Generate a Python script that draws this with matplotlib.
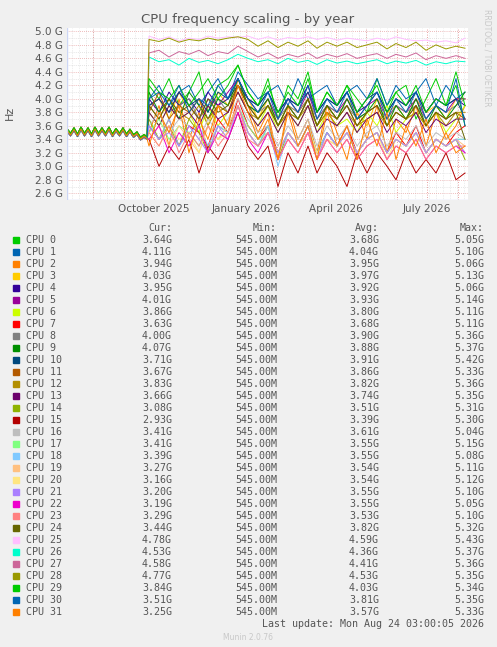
import matplotlib
matplotlib.use("Agg")
import matplotlib.pyplot as plt
import numpy as np

colors = ["#00CC00","#0066B3","#FF8000","#FFCC00","#330099","#990099","#CCFF00","#FF0000",
          "#808080","#008F00","#00487D","#B35A00","#B38F00","#6B006B","#8FB300","#B30000",
          "#BEBEBE","#80FF80","#80C9FF","#FFC080","#FFE680","#AA80FF","#EE00CC","#FF8080",
          "#666600","#FFBFFF","#00FFCC","#CC6699","#999900","#00CC00","#0066B3","#FF8000"]
names = ["CPU %d" % i for i in range(32)]
cur = ["3.64G","4.11G","3.94G","4.03G","3.95G","4.01G","3.86G","3.63G","4.00G","4.07G","3.71G",
       "3.67G","3.83G","3.66G","3.08G","2.93G","3.41G","3.41G","3.39G","3.27G","3.16G","3.20G",
       "3.19G","3.29G","3.44G","4.78G","4.53G","4.58G","4.77G","3.84G","3.51G","3.25G"]
mins = ["545.00M"] * 32
avg = ["3.68G","4.04G","3.95G","3.97G","3.92G","3.93G","3.80G","3.68G","3.90G","3.88G","3.91G",
       "3.86G","3.82G","3.74G","3.51G","3.39G","3.61G","3.55G","3.55G","3.54G","3.54G","3.55G",
       "3.55G","3.53G","3.82G","4.59G","4.36G","4.41G","4.53G","4.03G","3.81G","3.57G"]
maxs = ["5.05G","5.10G","5.06G","5.13G","5.06G","5.14G","5.11G","5.11G","5.36G","5.37G","5.42G",
        "5.33G","5.36G","5.35G","5.31G","5.30G","5.04G","5.15G","5.08G","5.11G","5.12G","5.10G",
        "5.05G","5.10G","5.32G","5.43G","5.37G","5.36G","5.35G","5.34G","5.35G","5.33G"]

# shared early segment (days since 2025-07-06), all cores nearly identical
pre_days = [0,3.5,7,10.5,14,17.5,21,24.5,28,31.5,35,38.5,42,45.5,49,52.5,56,59.5,63,66.5,70,73.5,77,80]
pre_vals = [3.54,3.47,3.55,3.46,3.56,3.47,3.55,3.46,3.56,3.47,3.55,3.47,3.56,3.46,3.54,3.47,3.55,3.46,
            3.53,3.45,3.49,3.41,3.45,3.42]
post_days = [82,92,102,112,122,132,141,151,161,171,181,191,201,211,221,231,241,250,260,270,280,290,
             300,310,320,329,339,349,359,369,379,389,398]

post = {
 0: [4.2,4.0,4.3,3.9,4.1,4.4,3.8,4.2,4.3,4.5,4.1,3.9,4.3,3.7,4.2,4.0,4.4,3.8,4.1,3.9,4.2,4.0,3.8,4.3,3.9,4.1,4.2,3.7,4.0,4.3,3.9,4.2,3.6],
 1: [4.0,4.2,3.9,4.1,4.2,3.9,4.1,4.3,4.0,4.4,4.2,4.0,4.1,4.2,3.9,4.3,4.0,4.1,4.2,3.9,4.1,4.2,4.0,4.3,3.9,4.2,4.0,4.1,4.3,3.9,4.2,4.0,4.1],
 2: [3.5,3.9,3.3,4.0,3.4,3.8,3.2,3.9,3.6,4.3,3.9,3.5,3.8,3.1,3.9,3.4,3.7,3.2,3.9,3.5,3.1,3.8,3.4,3.9,3.2,3.7,3.5,3.9,3.3,3.8,3.4,3.6,3.9],
 3: [3.9,4.0,3.7,4.1,3.8,4.0,3.6,4.1,3.9,4.2,4.0,3.7,4.0,3.6,3.9,3.8,4.0,3.6,3.9,3.7,4.0,3.8,3.6,4.0,3.8,3.9,3.7,4.0,3.8,3.9,3.7,4.0,4.0],
 4: [4.0,3.8,4.1,3.9,4.0,3.8,4.1,3.9,4.0,4.2,4.0,3.9,4.1,3.8,4.0,3.9,4.2,3.8,4.0,3.9,4.1,3.8,3.9,4.1,3.8,4.0,3.9,4.1,3.8,4.0,3.9,4.0,3.9],
 5: [3.9,4.0,3.8,4.1,3.9,3.7,4.0,3.9,4.1,4.3,4.0,3.8,4.0,3.7,4.0,3.8,4.1,3.7,3.9,3.8,4.0,3.7,3.9,4.0,3.7,3.9,3.8,4.0,3.7,3.9,3.8,4.0,4.0],
 6: [3.8,3.6,3.9,3.7,3.8,3.5,3.9,3.6,3.8,4.1,3.8,3.6,3.9,3.5,3.8,3.6,3.9,3.5,3.8,3.6,3.7,3.5,3.8,3.6,3.9,3.5,3.7,3.8,3.6,3.8,3.5,3.7,3.9],
 7: [3.6,3.4,3.7,3.3,3.6,3.5,3.3,3.7,3.5,4.0,3.6,3.4,3.6,3.2,3.5,3.3,3.6,3.2,3.5,3.3,3.6,3.2,3.4,3.5,3.2,3.5,3.3,3.6,3.2,3.4,3.3,3.5,3.6],
 8: [3.9,4.0,3.8,3.9,4.0,3.7,3.9,4.0,3.8,4.2,3.9,3.8,3.9,3.7,3.9,3.8,4.0,3.7,3.9,3.8,3.9,3.7,3.8,3.9,3.7,3.9,3.8,3.9,3.7,3.9,3.8,3.9,4.0],
 9: [4.1,3.8,4.0,3.7,4.1,3.9,3.7,4.0,3.9,4.3,3.9,3.8,4.0,3.6,3.9,3.7,4.0,3.6,3.9,3.7,4.0,3.7,3.8,4.0,3.6,3.9,3.7,4.0,3.6,3.9,3.7,3.9,4.1],
10: [3.9,4.0,3.8,4.1,3.9,4.0,3.8,4.1,4.0,4.3,4.0,3.9,4.1,3.8,4.0,3.9,4.1,3.8,4.0,3.9,4.1,3.8,4.0,4.1,3.8,4.0,3.9,4.1,3.8,4.0,3.9,4.0,3.7],
11: [3.8,4.1,3.7,3.9,3.8,4.0,3.7,3.9,3.8,4.2,3.9,3.7,3.9,3.6,3.8,3.7,4.0,3.6,3.8,3.7,3.9,3.6,3.8,3.9,3.6,3.8,3.7,3.9,3.6,3.8,3.7,3.8,3.7],
12: [3.9,3.7,4.0,3.8,3.7,3.9,3.6,3.9,3.8,4.1,3.8,3.7,3.9,3.6,3.8,3.7,3.9,3.6,3.8,3.6,3.8,3.6,3.7,3.8,3.6,3.8,3.7,3.8,3.6,3.8,3.6,3.8,3.8],
13: [3.8,3.6,3.9,3.7,3.8,3.6,3.9,3.7,3.8,4.1,3.8,3.6,3.8,3.5,3.8,3.6,3.9,3.5,3.7,3.6,3.8,3.5,3.7,3.8,3.5,3.7,3.6,3.8,3.5,3.7,3.6,3.7,3.7],
14: [3.7,3.4,3.6,3.3,3.7,3.5,3.2,3.6,3.5,3.9,3.5,3.3,3.6,3.1,3.5,3.3,3.6,3.2,3.5,3.3,3.5,3.2,3.4,3.5,3.2,3.4,3.3,3.5,3.2,3.4,3.3,3.4,3.1],
15: [3.4,3.0,3.3,3.1,3.4,2.9,3.3,3.1,3.4,3.8,3.3,3.1,3.3,2.7,3.2,2.9,3.3,2.9,3.2,3.0,2.7,3.2,2.9,3.2,3.0,2.8,3.2,2.9,3.1,2.9,3.2,2.8,2.9],
16: [3.6,3.8,3.5,3.7,3.6,3.4,3.7,3.5,3.7,4.0,3.7,3.5,3.6,3.3,3.6,3.4,3.7,3.3,3.6,3.4,3.6,3.3,3.5,3.6,3.3,3.5,3.4,3.6,3.3,3.5,3.4,3.5,3.4],
17: [3.5,3.7,3.4,3.6,3.5,3.3,3.6,3.4,3.6,3.9,3.6,3.4,3.5,3.2,3.5,3.3,3.6,3.2,3.5,3.3,3.5,3.2,3.4,3.5,3.2,3.4,3.3,3.5,3.2,3.4,3.3,3.4,3.4],
18: [3.6,3.4,3.7,3.3,3.5,3.6,3.3,3.6,3.5,3.9,3.5,3.3,3.6,3.0,3.5,3.3,3.6,3.2,3.5,3.3,3.5,3.2,3.4,3.5,3.2,3.4,3.3,3.5,3.2,3.4,3.3,3.4,3.4],
19: [3.4,3.6,3.3,3.6,3.4,3.2,3.6,3.4,3.6,3.9,3.5,3.3,3.5,3.2,3.5,3.3,3.5,3.2,3.4,3.3,3.5,3.2,3.4,3.5,3.2,3.4,3.3,3.5,3.2,3.4,3.3,3.4,3.3],
20: [3.5,3.3,3.6,3.4,3.5,3.2,3.6,3.4,3.5,3.9,3.5,3.3,3.5,3.2,3.5,3.3,3.6,3.2,3.4,3.3,3.5,3.2,3.4,3.5,3.1,3.4,3.3,3.5,3.2,3.4,3.3,3.4,3.2],
21: [3.6,3.4,3.5,3.3,3.6,3.4,3.2,3.6,3.4,3.9,3.5,3.3,3.5,3.2,3.5,3.3,3.6,3.1,3.5,3.3,3.5,3.2,3.4,3.5,3.2,3.4,3.3,3.5,3.2,3.4,3.3,3.4,3.2],
22: [3.4,3.6,3.2,3.5,3.3,3.6,3.2,3.5,3.4,3.8,3.4,3.2,3.5,3.1,3.4,3.2,3.5,3.1,3.4,3.2,3.4,3.1,3.3,3.4,3.1,3.3,3.2,3.4,3.1,3.3,3.2,3.3,3.2],
23: [3.5,3.3,3.6,3.2,3.5,3.3,3.6,3.3,3.5,3.9,3.4,3.3,3.5,3.1,3.4,3.2,3.5,3.1,3.4,3.2,3.4,3.1,3.3,3.4,3.1,3.3,3.2,3.4,3.1,3.3,3.2,3.3,3.3],
24: [3.9,3.7,4.0,3.8,3.9,3.7,4.0,3.8,3.9,4.2,3.9,3.7,3.9,3.6,3.9,3.7,4.0,3.6,3.9,3.7,3.9,3.6,3.8,3.9,3.6,3.8,3.7,3.9,3.6,3.8,3.7,3.8,3.4],
25: [4.93,4.88,4.92,4.86,4.90,4.88,4.93,4.90,4.92,4.91,4.93,4.88,4.92,4.87,4.91,4.89,4.92,4.88,4.91,4.87,4.90,4.88,4.86,4.90,4.87,4.92,4.88,4.86,4.87,4.84,4.86,4.83,4.90],
26: [4.62,4.55,4.58,4.50,4.60,4.54,4.57,4.52,4.58,4.66,4.60,4.55,4.58,4.52,4.60,4.54,4.57,4.51,4.58,4.53,4.56,4.52,4.55,4.58,4.52,4.56,4.53,4.57,4.50,4.55,4.52,4.56,4.55],
27: [4.68,4.72,4.62,4.70,4.66,4.72,4.64,4.70,4.67,4.78,4.70,4.62,4.68,4.60,4.66,4.62,4.68,4.60,4.66,4.62,4.67,4.60,4.64,4.67,4.60,4.66,4.62,4.68,4.58,4.64,4.60,4.64,4.60],
28: [4.88,4.85,4.90,4.84,4.88,4.86,4.90,4.87,4.90,4.92,4.88,4.78,4.86,4.76,4.84,4.78,4.86,4.75,4.84,4.78,4.84,4.76,4.80,4.84,4.74,4.82,4.76,4.84,4.72,4.80,4.74,4.78,4.75],
29: [4.3,4.1,4.0,4.2,3.9,4.1,4.3,4.0,4.2,4.5,4.1,3.9,4.2,3.8,4.1,3.9,4.3,3.8,4.1,3.9,4.2,3.8,4.0,4.2,3.8,4.1,3.9,4.2,3.8,4.0,3.9,4.4,3.9],
30: [4.0,4.1,3.9,4.2,3.8,4.0,3.9,4.2,4.0,4.3,4.0,3.8,4.1,3.7,4.0,3.8,4.2,3.7,4.0,3.8,4.1,3.7,3.9,4.1,3.7,4.0,3.8,4.1,3.7,3.9,3.8,4.3,3.6],
31: [3.3,3.8,3.5,3.9,3.2,3.7,3.4,3.9,3.6,4.2,3.8,3.4,3.7,3.1,3.8,3.3,3.6,3.1,3.8,3.3,3.6,3.1,3.7,3.3,3.8,3.1,3.6,3.3,3.7,3.2,3.5,3.2,3.3],
}

plt.rcParams['font.family'] = ['DejaVu Sans']
fig = plt.figure(figsize=(4.97, 6.47), dpi=100, facecolor="#F0F0F0")
W, H = 497, 647
ax = fig.add_axes([67/W, 1-200/H, 401/W, 172/H], facecolor="white")

for i in range(32):
    x = pre_days + post_days
    y = [v + (i % 5 - 2) * 0.01 for v in pre_vals] + post[i]
    ax.plot(x, y, color=colors[i], lw=0.7)

ax.set_xlim(0, 401)
ax.set_ylim(2.5, 5.05)
ax.set_yticks(np.arange(2.6, 5.01, 0.2))
ax.set_yticklabels(["%.1f G" % v for v in np.arange(2.6, 5.01, 0.2)], fontsize=7.5, color="#555555")
month_days = [26, 57, 87, 118, 148, 179, 210, 238, 269, 299, 330, 360, 391]
ax.set_xticks([87, 179, 269, 360])
ax.set_xticklabels(["October 2025", "January 2026", "April 2026", "July 2026"], fontsize=7.5, color="#555555")
ax.tick_params(length=0, pad=3)
for d in month_days:
    ax.axvline(d, color="#e08080", lw=0.6, ls=(0, (1, 2)), zorder=0)
for d in range(5, 401, 7):
    ax.axvline(d, color="#cccccc", lw=0.4, ls=(0, (1, 2)), zorder=0)
for v in np.arange(2.6, 5.01, 0.1):
    ax.axhline(v, color="#e08080" if round(v*10) % 2 == 0 else "#cccccc", lw=0.5, ls=(0, (1, 2)), zorder=0)
for s in ax.spines.values():
    s.set_visible(False)
ax.axhline(2.5, color="#ccd6f5", lw=1)
ax.axvline(0, color="#ccd6f5", lw=1)

fig.text(248/W, 1-19/H, "CPU frequency scaling - by year", ha="center", va="center", fontsize=9.5, color="#555555")
fig.text(10/W, 1-113/H, "Hz", rotation=90, ha="center", va="center", fontsize=8, color="#555555")
fig.text(487/W, 1-58/H, "RRDTOOL / TOBI OETIKER", rotation=270, ha="center", va="center", fontsize=5.5, color="#c8c8c8")

mono = dict(family="DejaVu Sans Mono", fontsize=7.2, color="#555555", va="center")
y0 = 228
fig.text(172/W, 1-y0/H, "Cur:", ha="right", **mono)
fig.text(277/W, 1-y0/H, "Min:", ha="right", **mono)
fig.text(379/W, 1-y0/H, "Avg:", ha="right", **mono)
fig.text(484/W, 1-y0/H, "Max:", ha="right", **mono)
for i in range(32):
    yy = 240 + i * 12.0
    fig.patches.append(plt.Rectangle((13/W, 1-(yy+3)/H), 6/W, 6/H, transform=fig.transFigure, color=colors[i]))
    fig.text(26/W, 1-yy/H, names[i], ha="left", **mono)
    fig.text(172/W, 1-yy/H, cur[i], ha="right", **mono)
    fig.text(277/W, 1-yy/H, mins[i], ha="right", **mono)
    fig.text(379/W, 1-yy/H, avg[i], ha="right", **mono)
    fig.text(484/W, 1-yy/H, maxs[i], ha="right", **mono)
fig.text(484/W, 1-624/H, "Last update: Mon Aug 24 03:00:05 2026", ha="right", **mono)
fig.text(248/W, 1-637/H, "Munin 2.0.76", ha="center", va="center", fontsize=5.5, color="#c8c8c8")

fig.savefig("out.png", dpi=100, facecolor=fig.get_facecolor())
